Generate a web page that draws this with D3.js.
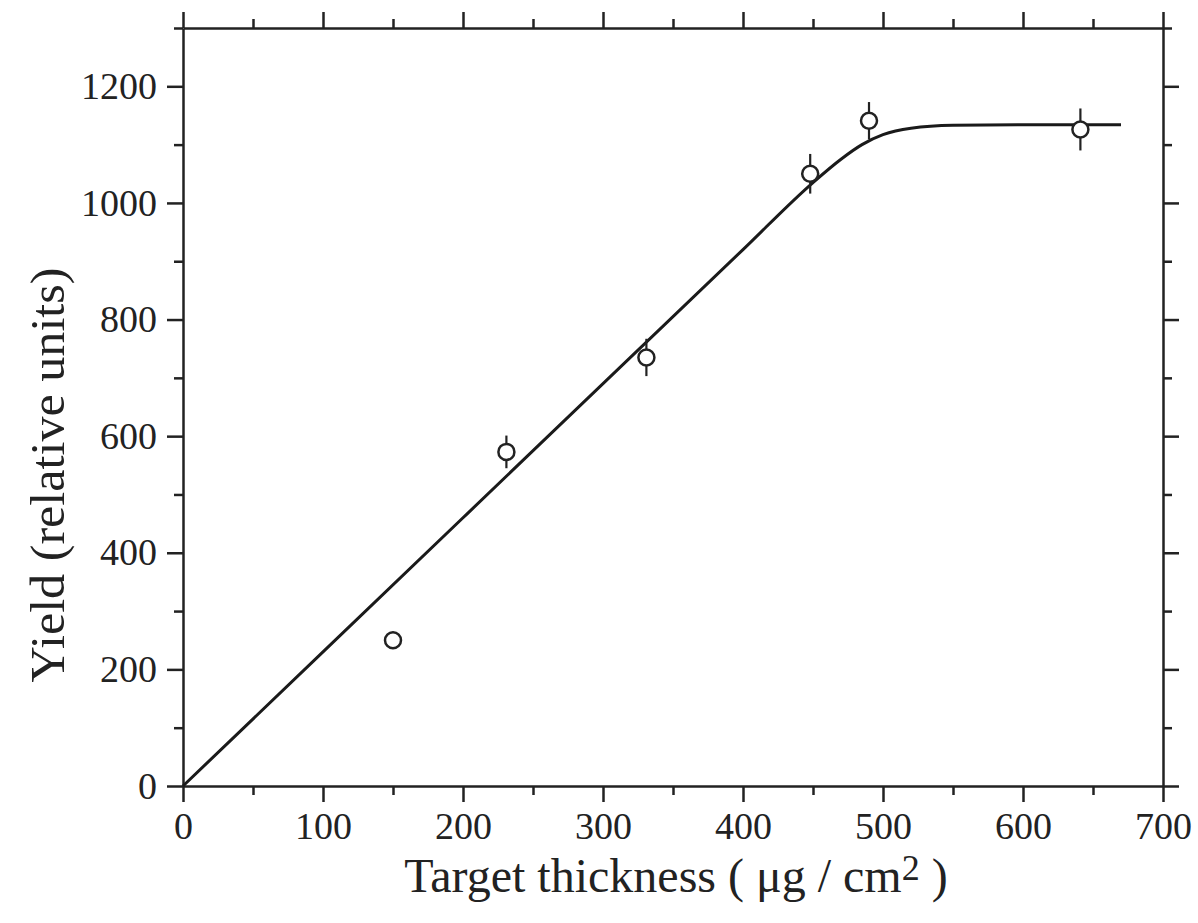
<!DOCTYPE html>
<html>
<head>
<meta charset="utf-8">
<script src="https://cdn.jsdelivr.net/npm/d3@7"></script>
<style>
  body { margin: 0; background: #fff; }
  text { font-family: "Liberation Serif", "DejaVu Serif", serif; fill: #222; }
</style>
</head>
<body>
<div id="chart-area"></div>
<script>
// measured points
var thickness = [150, 231, 331, 448, 490, 641]
var yieldVals = [250, 573, 735, 1050, 1141, 1126]
var yieldErr = [10, 28, 32, 34, 32, 36]

// fitted curve
var fitX = [0, 200, 400, 450, 470, 485, 500, 520, 550, 600, 670]
var fitY = [0, 460, 920, 1035, 1075, 1100, 1117, 1128, 1133, 1134, 1134]

var xMajor = [0, 100, 200, 300, 400, 500, 600, 700]
var xMinor = [50, 150, 250, 350, 450, 550, 650]
var yMajor = [0, 200, 400, 600, 800, 1000, 1200]
var yMinor = [100, 300, 500, 700, 900, 1100, 1300]

var cw = 1198, ch = 923
var m = {l: 183, t: 28, r: 35, b: 137}
var w = cw - m.l - m.r
var h = ch - m.t - m.b

var svg = d3.select("#chart-area").append("svg")
    .attr("width", cw)
    .attr("height", ch)

var g = svg.append("g")
    .attr("transform", "translate(" + m.l + ", " + m.t + ")")

var x = d3.scaleLinear().domain([0, 700]).range([0, w])
var y = d3.scaleLinear().domain([0, 1300]).range([h, 0])

function styleAxis(sel) {
    sel.selectAll("path.domain").attr("stroke", "#222").attr("stroke-width", 2.5)
    sel.selectAll(".tick line").attr("stroke", "#222").attr("stroke-width", 2.5)
    sel.selectAll("text").attr("font-size", "38px").attr("fill", "#222")
        .style("font-family", '"Liberation Serif", serif')
}

// bottom
g.append("g").attr("transform", "translate(0," + h + ")")
    .call(d3.axisBottom(x).tickValues(xMajor).tickSize(16).tickSizeOuter(0).tickPadding(10).tickFormat(d3.format("d")))
    .call(styleAxis)
g.append("g").attr("transform", "translate(0," + h + ")")
    .call(d3.axisBottom(x).tickValues(xMinor).tickSize(9).tickFormat(""))
    .call(styleAxis).select(".domain").remove()

// top
g.append("g")
    .call(d3.axisTop(x).tickValues(xMajor).tickSize(16).tickSizeOuter(0).tickFormat(""))
    .call(styleAxis)
g.append("g")
    .call(d3.axisTop(x).tickValues(xMinor).tickSize(9).tickFormat(""))
    .call(styleAxis).select(".domain").remove()

// left
g.append("g")
    .call(d3.axisLeft(y).tickValues(yMajor).tickSize(16).tickSizeOuter(0).tickPadding(10).tickFormat(d3.format("d")))
    .call(styleAxis)
g.append("g")
    .call(d3.axisLeft(y).tickValues(yMinor).tickSize(9).tickFormat(""))
    .call(styleAxis).select(".domain").remove()

// right
g.append("g").attr("transform", "translate(" + w + ",0)")
    .call(d3.axisRight(y).tickValues(yMajor).tickSize(16).tickSizeOuter(0).tickFormat(""))
    .call(styleAxis)
g.append("g").attr("transform", "translate(" + w + ",0)")
    .call(d3.axisRight(y).tickValues(yMinor).tickSize(9).tickFormat(""))
    .call(styleAxis).select(".domain").remove()

// fit line
var fit = fitX.map((d, i) => [d, fitY[i]])
g.append("path")
    .datum(fit)
    .attr("fill", "none")
    .attr("stroke", "#1a1a1a")
    .attr("stroke-width", 3)
    .attr("d", d3.line().x(d => x(d[0])).y(d => y(d[1])).curve(d3.curveMonotoneX))

var pts = thickness.map((d, i) => ({x: d, y: yieldVals[i], e: yieldErr[i]}))

g.selectAll("line.err")
    .data(pts).enter().append("line")
    .attr("class", "err")
    .attr("x1", d => x(d.x))
    .attr("x2", d => x(d.x))
    .attr("y1", d => y(d.y - d.e))
    .attr("y2", d => y(d.y + d.e))
    .attr("stroke", "#222")
    .attr("stroke-width", 2.2)

g.selectAll("circle")
    .data(pts).enter().append("circle")
    .attr("cx", d => x(d.x))
    .attr("cy", d => y(d.y))
    .attr("r", 8)
    .attr("fill", "#fff")
    .attr("stroke", "#222")
    .attr("stroke-width", 2.5)

// axis labels
svg.append("text")
    .attr("x", 676)
    .attr("y", 892)
    .attr("font-size", "48px")
    .attr("text-anchor", "middle")
    .html('Target thickness ( \u03BCg / cm<tspan font-size="36px" dy="-12">2</tspan><tspan dy="12"> )</tspan>')

svg.append("text")
    .attr("transform", "translate(64,475) rotate(-90)")
    .attr("font-size", "48px")
    .attr("text-anchor", "middle")
    .attr("textLength", 415)
    .attr("lengthAdjust", "spacingAndGlyphs")
    .text("Yield (relative units)")
</script>
</body>
</html>
